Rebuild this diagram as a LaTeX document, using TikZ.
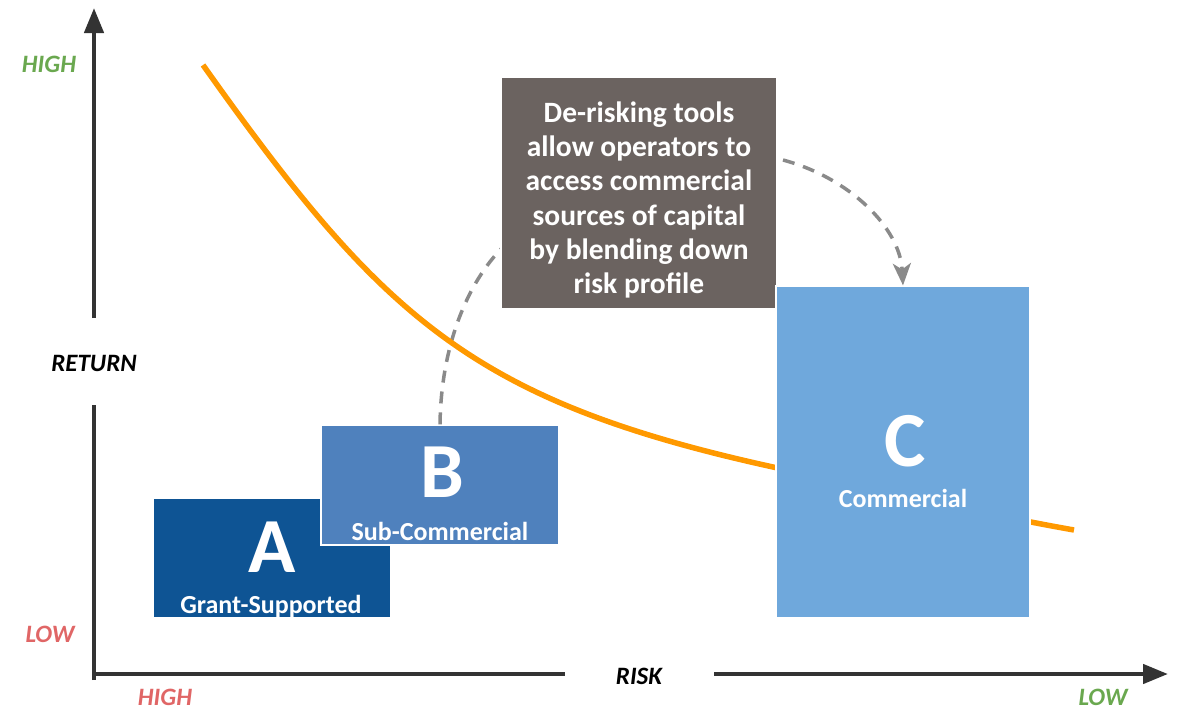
\documentclass[tikz,border=0pt]{standalone}
\usepackage{fontspec}
\setmainfont{Carlito}
\usetikzlibrary{arrows.meta, positioning}

\definecolor{axisgray}{HTML}{333333}
\definecolor{dashgray}{HTML}{8A8A8A}
\definecolor{curveorange}{HTML}{FF9900}
\definecolor{hilow}{HTML}{6AA84F}
\definecolor{lowred}{HTML}{E06666}
\definecolor{grantblue}{HTML}{0E5494}
\definecolor{subblue}{HTML}{4F81BD}
\definecolor{commblue}{HTML}{6FA8DC}
\definecolor{notegray}{HTML}{6B6360}

\begin{document}
\begin{tikzpicture}[x=1pt, y=-1pt, font=\bfseries,
    axis/.style={draw=axisgray, line width=4.5pt},
    axlabel/.style={font=\fontsize{25}{25}\selectfont\bfseries\itshape},
    riskbox/.style={draw=white, line width=1.2pt, inner sep=0pt},
    bigletter/.style={text=white, font=\fontsize{78}{78}\selectfont\bfseries},
    boxname/.style={text=white, anchor=base, font=\fontsize{26}{26}\selectfont\bfseries},
    derisk/.style={draw=dashgray, line width=3.5pt, dash pattern=on 12pt off 9pt}]
    \useasboundingbox (0,0) rectangle (1189,710);

    % axis labels
    \node[axlabel, text=hilow] (yhigh) at (49,64) {HIGH};
    \node[axlabel] (ret) at (94,363) {RETURN};
    \node[axlabel, text=lowred] (ylow) at (50,634) {LOW};
    \node[axlabel, text=lowred] (xhigh) at (165,697) {HIGH};
    \node[axlabel] (risk) at (639,676) {RISK};
    \node[axlabel, text=hilow] (xlow) at (1103,697) {LOW};

    \coordinate (origin) at (94,680);
    \coordinate (ytop) at (94,8);
    \coordinate (xend) at (1168,674);

    % axes
    \draw[axis] (origin) -- (94,405);
    \draw[axis, -{Triangle[length=25pt,width=19pt]}] (94,318) -- (ytop);
    \draw[axis] (92,674) -- (565,674);
    \draw[axis, -{Triangle[length=25pt,width=19pt]}] (714,674) -- (xend);

    % boxes
    \node[riskbox, fill=grantblue, minimum width=238pt, minimum height=120pt] (A) at (272,558) {};
    \node[riskbox, fill=subblue, minimum width=238pt, minimum height=120pt] (B) at (440,485) {};

    \coordinate (d1) at (503,247);
    \coordinate (d2) at (783,160);

    \draw[derisk] (B.north) .. controls (441,345) and (468,282) .. (d1);
    % return curve
    \draw[curveorange, line width=5.5pt] (203,65) .. controls (383,319) and (473,401) .. (773,467)
        .. controls (900,495) and (1000,517) .. (1074,530);
    \node[riskbox, fill=notegray, minimum width=276pt, minimum height=232pt] (note) at (639,193) {};
    \node[text=white, align=center, font=\fontsize{29.5}{34.2}\selectfont\bfseries] (notetext) at (639,200)
        {De-risking tools\\allow operators to\\access commercial\\sources of capital\\by blending down\\risk profile};

    \node[riskbox, fill=commblue, minimum width=254pt, minimum height=332pt] (C) at (903,452) {};
    \draw[derisk, -{Stealth[length=22pt,width=18pt,inset=6pt]}] (d2) .. controls (850,178) and (900,228) .. (C.north);

    % letters
    \node[bigletter] (Aletter) at (272,547) {A};
    \node[boxname] (Aname) at (271,613) {Grant-Supported};
    \node[bigletter] (Bletter) at (442,472) {B};
    \node[boxname] (Bname) at (440,540) {Sub-Commercial};
    \node[bigletter] (Cletter) at (905,441) {C};
    \node[boxname] (Cname) at (903,507) {Commercial};
\end{tikzpicture}
\end{document}
